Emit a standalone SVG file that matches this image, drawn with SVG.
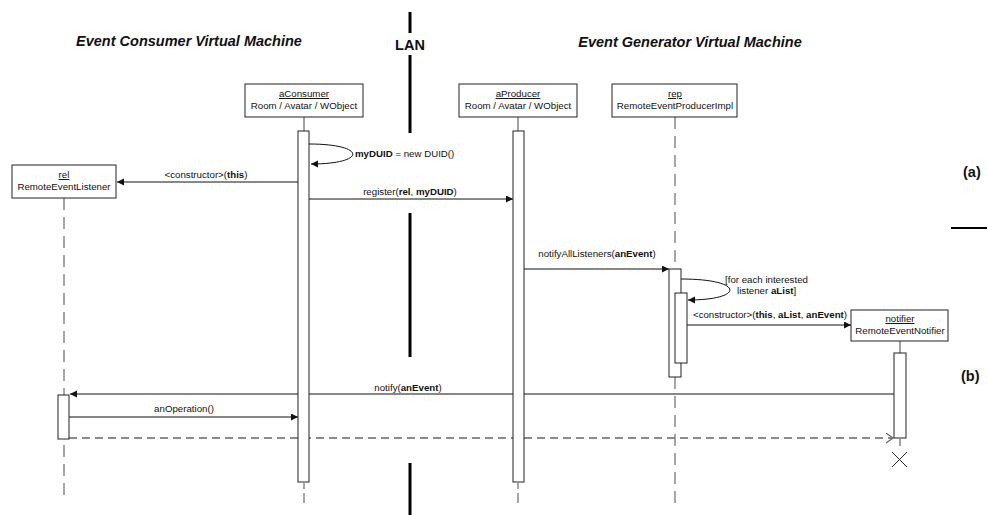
<svg xmlns="http://www.w3.org/2000/svg" width="988" height="515" viewBox="0 0 988 515">
<style>
text{font-family:"Liberation Sans",Arial,sans-serif;fill:#111}
.title{font-size:14.5px;font-weight:bold;font-style:italic;text-anchor:middle}
.big{font-size:14.5px;font-weight:bold}
.lbl{font-size:9.7px}
.mid{text-anchor:middle}
.u{text-decoration:underline}
.b{font-weight:bold}
.box{fill:#fff;stroke:#222;stroke-width:1}
.act{fill:#fff;stroke:#222;stroke-width:1}
.life{stroke:#777;stroke-width:1.3;stroke-dasharray:12 7;fill:none}
.short{stroke:#777;stroke-width:1.3;fill:none}
.solid{stroke:#444;stroke-width:1;fill:none}
.msg{stroke:#111;stroke-width:1;fill:none}
.ret{stroke:#666;stroke-width:1.3;stroke-dasharray:8 5;fill:none}
.lan{stroke:#000;stroke-width:3}
</style>
<defs>
<marker id="fill" markerUnits="userSpaceOnUse" markerWidth="8" markerHeight="8" refX="7" refY="3.5" orient="auto">
<path d="M0,0 L7,3.5 L0,7 z" fill="#111"/>
</marker>
<marker id="open" markerUnits="userSpaceOnUse" markerWidth="10" markerHeight="12" refX="7" refY="5" orient="auto">
<path d="M0,0 L7,5 L0,10" fill="none" stroke="#666" stroke-width="1.2"/>
</marker>
</defs>
<rect width="988" height="515" fill="#fff"/>

<g id="titles">
<text class="title" x="189" y="46">Event Consumer Virtual Machine</text>
<text class="title" x="690" y="47">Event Generator Virtual Machine</text>
<text class="big" x="410" y="50" text-anchor="middle">LAN</text>
<text class="big" x="963" y="177">(a)</text>
<text class="big" x="961" y="381">(b)</text>
<line x1="951" y1="228" x2="987" y2="228" stroke="#000" stroke-width="2"/>
</g>

<g id="lan">
<line class="lan" x1="410" y1="12" x2="410" y2="33"/>
<line class="lan" x1="410" y1="55" x2="410" y2="133"/>
<line class="lan" x1="410" y1="213" x2="410" y2="357"/>
<line class="lan" x1="410" y1="463" x2="410" y2="515"/>
</g>

<g id="lifelines">
<line class="life" x1="64" y1="198" x2="64" y2="498"/>
<line class="solid" x1="304" y1="117" x2="304" y2="131"/>
<path class="short" d="M304,483 V489 M304,493 V503"/>
<line class="solid" x1="518" y1="117" x2="518" y2="131"/>
<path class="short" d="M518,483 V489 M518,493 V503"/>
<line class="life" x1="675" y1="117" x2="675" y2="269"/>
<line class="life" x1="675" y1="377" x2="675" y2="503"/>
<line class="solid" x1="900" y1="341" x2="900" y2="353"/>
<line class="solid" x1="900" y1="439" x2="900" y2="446"/>
<path d="M892,452 L907,467 M907,452 L892,467" stroke="#222" stroke-width="1"/>
</g>

<g id="connectors">
<path class="msg" d="M309,144 C367,144 367,164 311,164" marker-end="url(#fill)"/>
<line class="msg" x1="298" y1="182" x2="117" y2="182" marker-end="url(#fill)"/>
<line class="msg" x1="309" y1="199" x2="513" y2="199" marker-end="url(#fill)"/>
<line class="msg" x1="524" y1="269" x2="669" y2="269" marker-end="url(#fill)"/>
<path class="msg" d="M681,279 C745,279 745,300 688,300" marker-end="url(#fill)"/>
<line class="msg" x1="687" y1="325" x2="851" y2="325" marker-end="url(#fill)"/>
<line class="msg" x1="894" y1="394" x2="70" y2="394" marker-end="url(#fill)"/>
<line class="msg" x1="69" y1="417" x2="298" y2="417" marker-end="url(#fill)"/>
<line class="ret" x1="69" y1="438" x2="893" y2="438" marker-end="url(#open)"/>
</g>

<g id="labels">
<text class="lbl" x="355" y="157"><tspan class="b">myDUID</tspan> = new DUID()</text>
<text class="lbl mid" x="206" y="178">&lt;constructor&gt;(<tspan class="b">this</tspan>)</text>
<text class="lbl mid" x="410" y="195">register(<tspan class="b">rel</tspan>, <tspan class="b">myDUID</tspan>)</text>
<text class="lbl mid" x="597" y="257">notifyAllListeners(<tspan class="b">anEvent</tspan>)</text>
<text class="lbl" x="725" y="283">[for each interested</text>
<text class="lbl" x="737" y="294">listener <tspan class="b">aList</tspan>]</text>
<text class="lbl mid" x="770" y="318">&lt;constructor&gt;(<tspan class="b">this</tspan>, <tspan class="b">aList</tspan>, <tspan class="b">anEvent</tspan>)</text>
<text class="lbl mid" x="408" y="391">notify(<tspan class="b">anEvent</tspan>)</text>
<text class="lbl mid" x="184" y="412">anOperation()</text>
</g>

<g id="aConsumer">
<rect class="box" x="245" y="84" width="118" height="33"/>
<text class="lbl mid u" x="304" y="97">aConsumer</text>
<text class="lbl mid" x="304" y="109">Room / Avatar / WObject</text>
<rect class="act" x="298" y="131" width="11" height="351"/>
</g>

<g id="aProducer">
<rect class="box" x="459" y="84" width="118" height="33"/>
<text class="lbl mid u" x="518" y="97">aProducer</text>
<text class="lbl mid" x="518" y="109">Room / Avatar / WObject</text>
<rect class="act" x="513" y="131" width="11" height="351"/>
</g>

<g id="rep">
<rect class="box" x="612" y="84" width="125" height="33"/>
<text class="lbl mid u" x="675" y="97">rep</text>
<text class="lbl mid" x="675" y="109">RemoteEventProducerImpl</text>
<rect class="act" x="669" y="269" width="12" height="108"/>
<rect class="act" x="675" y="293" width="12" height="70"/>
</g>

<g id="rel">
<rect class="box" x="12" y="165" width="104" height="33"/>
<text class="lbl mid u" x="64" y="178">rel</text>
<text class="lbl mid" x="64" y="190">RemoteEventListener</text>
<rect class="act" x="58" y="395" width="11" height="44"/>
</g>

<g id="notifier">
<rect class="box" x="851" y="310" width="97" height="31"/>
<text class="lbl mid u" x="900" y="322">notifier</text>
<text class="lbl mid" x="900" y="334">RemoteEventNotifier</text>
<rect class="act" x="894" y="353" width="12" height="85"/>
</g>
</svg>
